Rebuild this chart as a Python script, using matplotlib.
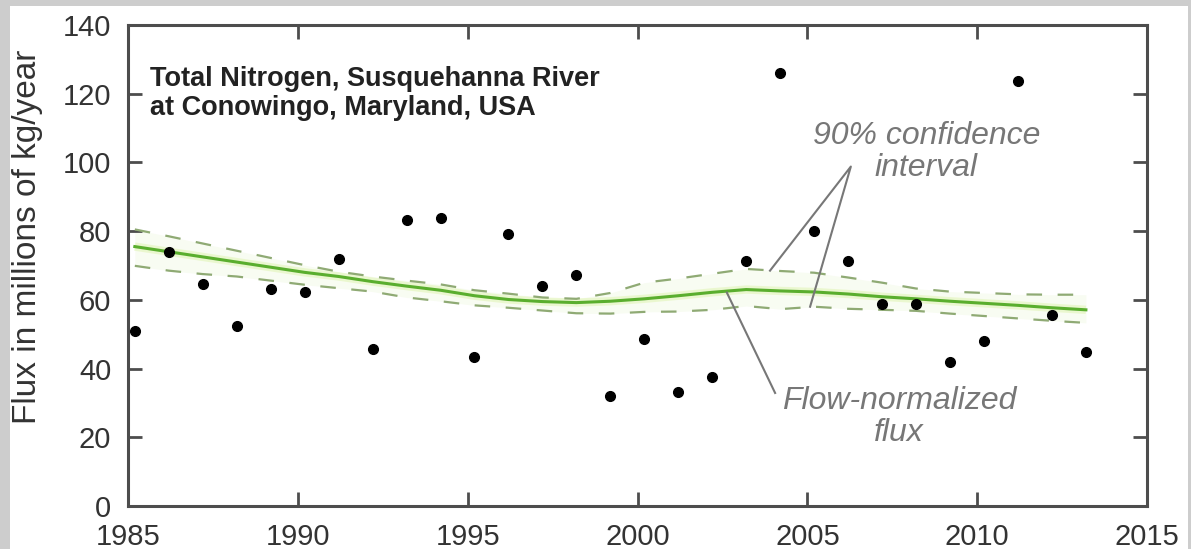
import numpy as np
import matplotlib.pyplot as plt
from matplotlib.patches import Rectangle

plt.rcParams['font.family'] = ['Liberation Sans', 'DejaVu Sans']

# Annual total nitrogen flux, Susquehanna River at Conowingo (millions kg/yr)
years = list(range(1985, 2014))
flux = [51.0, 74.0, 64.5, 52.5, 63.3, 62.4, 72.0, 45.8, 83.1, 83.7,
        43.4, 79.3, 64.1, 67.3, 32.1, 48.7, 33.2, 37.6, 71.4, 126.0,
        79.9, 71.4, 58.9, 58.9, 42.0, 48.1, 123.6, 55.7, 44.9]
fn_flux = [75.5, 74.0, 72.5, 71.0, 69.5, 68.0, 66.8, 65.3, 64.0, 62.8,
           61.2, 60.1, 59.5, 59.2, 59.6, 60.3, 61.2, 62.2, 63.0, 62.6,
           62.3, 61.7, 60.9, 60.3, 59.6, 59.0, 58.4, 57.7, 57.1]
ci_upper = [80.5, 78.5, 76.4, 74.3, 72.2, 70.1, 68.2, 66.8, 65.6, 64.5,
            62.8, 61.8, 60.7, 60.3, 62.0, 65.0, 66.2, 67.6, 69.0, 68.4,
            67.9, 66.5, 65.0, 63.3, 62.4, 62.0, 61.6, 61.5, 61.5]
ci_lower = [69.9, 68.5, 67.5, 66.8, 65.6, 64.4, 63.4, 62.4, 60.7, 59.6,
            58.4, 57.7, 56.9, 56.1, 56.0, 56.5, 56.6, 57.1, 58.2, 57.3,
            58.0, 57.4, 57.1, 56.8, 56.0, 55.3, 54.6, 53.9, 53.3]

# water years plotted near their centre
t = np.array(years) + 0.2

fig = plt.figure(figsize=(11.91, 5.49), dpi=100)
fig.patch.set_facecolor('#cdcdcd')
panel = Rectangle((0.0084, 0.0), 0.989, 0.989, transform=fig.transFigure,
                  facecolor='white', edgecolor='none', zorder=-10)
fig.patches.append(panel)
ax = fig.add_axes([0.1075, 0.0783, 0.8556, 0.8762])
ax.set_zorder(1)
ax.set_facecolor('white')

# confidence band and flow-normalized flux
ax.fill_between(t, ci_lower, ci_upper, color='#f8fcf2', lw=0, zorder=1)
ax.plot(t, fn_flux, color='#e2f5b8', lw=6, alpha=0.6, zorder=2, solid_capstyle='butt')
ax.plot(t, ci_upper, color='#8faa74', lw=1.6, dashes=(7, 7), zorder=3)
ax.plot(t, ci_lower, color='#8faa74', lw=1.6, dashes=(7, 7), zorder=3)
ax.plot(t, fn_flux, color='#5aae2e', lw=2.2, zorder=4)
ax.plot(t, flux, 'o', color='black', ms=7, zorder=5)

ax.set_xlim(1985, 2015)
ax.set_ylim(0, 140)
ax.set_xticks(range(1985, 2016, 5))
ax.set_yticks(range(0, 141, 20))
ax.tick_params(direction='in', length=10, width=2, color='#4d4d4d',
               labelsize=21, labelcolor='#333333', top=True, right=True)
ax.tick_params(axis='x', pad=12)
ax.tick_params(axis='y', pad=12)
for s in ax.spines.values():
    s.set_color('#4d4d4d')
    s.set_linewidth(2.2)
ax.set_ylabel('Flux in millions of kg/year', fontsize=24, color='#333333')
ax.yaxis.set_label_coords(-0.083, 0.56)

ax.text(1985.65, 120, 'Total Nitrogen, Susquehanna River\nat Conowingo, Maryland, USA',
        fontsize=19.5, fontweight='bold', color='#222222', va='center', ha='left',
        linespacing=1.15)

grey = '#777777'
ax.text(2008.5, 103, '90% confidence\ninterval', fontsize=23, style='italic',
        color=grey, ha='center', va='center', linespacing=1.1)
ax.plot([2003.9, 2006.28, 2005.08], [68.5, 98.8, 58.0], color=grey, lw=1.5, zorder=6)

ax.text(2007.7, 26, 'Flow-normalized\nflux', fontsize=23, style='italic',
        color=grey, ha='center', va='center', linespacing=1.1)
ax.plot([2002.63, 2004.05], [62.1, 32.9], color=grey, lw=1.5, zorder=6)

fig.savefig('out.png', dpi=100, facecolor=fig.get_facecolor())
